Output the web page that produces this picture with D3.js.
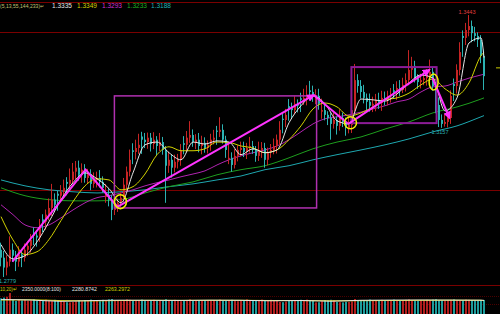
<!DOCTYPE html>
<html>
<head>
<meta charset="utf-8">
<script src="https://cdn.jsdelivr.net/npm/d3@7"></script>
<style>
  body { margin: 0; background: #000; overflow: hidden; }
  text { font-family: "Liberation Sans", sans-serif; font-size: 6.5px; }
</style>
</head>
<body>
<div id="chart"></div>
<script>
// candles, index 0..161
const opens = [
  1.2848,1.2828,1.2803,1.2818,1.2848,1.2833,1.2818,1.2836,1.2828,1.2848,
  1.2858,1.2890,1.2884,1.2879,1.2925,1.2919,1.2937,1.2954,1.2975,1.2990,
  1.2985,1.2995,1.3020,1.3015,1.3025,1.3046,1.3056,1.3038,1.3051,1.3030,
  1.3040,1.3015,1.3025,1.3030,1.3020,1.2982,1.2987,1.2975,1.2949,1.2960,
  1.2967,1.2980,1.3013,1.3046,1.3100,1.3096,1.3106,1.3135,1.3127,1.3121,
  1.3132,1.3116,1.3127,1.3111,1.3121,1.3101,1.3061,1.3076,1.3056,1.3071,
  1.3076,1.3118,1.3114,1.3132,1.3139,1.3121,1.3127,1.3111,1.3119,1.3106,
  1.3114,1.3127,1.3150,1.3147,1.3152,1.3127,1.3078,1.3081,1.3063,1.3086,
  1.3101,1.3106,1.3096,1.3106,1.3111,1.3101,1.3086,1.3101,1.3106,1.3076,
  1.3096,1.3101,1.3111,1.3127,1.3180,1.3177,1.3212,1.3207,1.3202,1.3218,
  1.3232,1.3228,1.3233,1.3252,1.3248,1.3235,1.3238,1.3198,1.3202,1.3190,
  1.3182,1.3167,1.3177,1.3162,1.3182,1.3172,1.3157,1.3164,1.3202,1.3278,
  1.3263,1.3248,1.3233,1.3223,1.3213,1.3218,1.3228,1.3220,1.3233,1.3228,
  1.3238,1.3252,1.3248,1.3258,1.3253,1.3266,1.3278,1.3304,1.3314,1.3283,
  1.3273,1.3278,1.3283,1.3291,1.3299,1.3263,1.3215,1.3177,1.3167,1.3172,
  1.3182,1.3268,1.3263,1.3304,1.3390,1.3385,1.3405,1.3415,1.3397,1.3390,
  1.3380,1.3339
];
const highs = [
  1.2866,1.2845,1.2834,1.2882,1.2864,1.2845,1.2857,1.2849,1.2864,1.2869,
  1.2888,1.2905,1.2896,1.2926,1.2938,1.2950,1.2978,1.3015,1.2991,1.2997,
  1.3012,1.3026,1.3032,1.3054,1.3068,1.3073,1.3074,1.3067,1.3065,1.3053,
  1.3052,1.3044,1.3046,1.3050,1.3034,1.3015,1.3004,1.2987,1.2977,1.2978,
  1.2994,1.3030,1.3059,1.3102,1.3118,1.3127,1.3142,1.3147,1.3144,1.3145,
  1.3144,1.3146,1.3136,1.3144,1.3134,1.3111,1.3097,1.3089,1.3089,1.3091,
  1.3116,1.3136,1.3149,1.3174,1.3153,1.3141,1.3144,1.3137,1.3133,1.3125,
  1.3142,1.3152,1.3162,1.3184,1.3166,1.3137,1.3118,1.3095,1.3103,1.3113,
  1.3122,1.3122,1.3119,1.3134,1.3124,1.3111,1.3122,1.3121,1.3119,1.3107,
  1.3116,1.3130,1.3140,1.3174,1.3194,1.3205,1.3230,1.3221,1.3237,1.3229,
  1.3246,1.3256,1.3265,1.3276,1.3264,1.3255,1.3256,1.3231,1.3217,1.3199,
  1.3194,1.3196,1.3186,1.3204,1.3196,1.3183,1.3184,1.3217,1.3319,1.3293,
  1.3278,1.3266,1.3244,1.3244,1.3236,1.3243,1.3246,1.3251,1.3249,1.3251,
  1.3258,1.3268,1.3275,1.3278,1.3284,1.3295,1.3354,1.3337,1.3327,1.3293,
  1.3294,1.3304,1.3306,1.3330,1.3312,1.3273,1.3234,1.3191,1.3191,1.3195,
  1.3252,1.3282,1.3318,1.3374,1.3404,1.3423,1.3443,1.3429,1.3413,1.3399,
  1.3392,1.3355
];
const lows = [
  1.2806,1.2779,1.2783,1.2806,1.2817,1.2794,1.2805,1.2804,1.2818,1.2832,
  1.2841,1.2860,1.2856,1.2868,1.2893,1.2899,1.2923,1.2934,1.2946,1.2947,
  1.2969,1.2983,1.2986,1.3002,1.3015,1.3027,1.3023,1.3018,1.3018,1.3016,
  1.2999,1.3005,1.3006,1.3006,1.2993,1.2967,1.2958,1.2923,1.2936,1.2944,
  1.2951,1.2970,1.2996,1.3034,1.3065,1.3077,1.3091,1.3091,1.3106,1.3104,
  1.3097,1.3103,1.3088,1.3098,1.3089,1.2967,1.3043,1.3031,1.3044,1.3054,
  1.3061,1.3090,1.3096,1.3119,1.3109,1.3103,1.3095,1.3090,1.3094,1.3092,
  1.3099,1.3115,1.3114,1.3134,1.3117,1.3081,1.3065,1.3046,1.3054,1.3072,
  1.3085,1.3083,1.3078,1.3094,1.3091,1.3071,1.3073,1.3081,1.3056,1.3062,
  1.3081,1.3090,1.3092,1.3114,1.3143,1.3159,1.3175,1.3180,1.3192,1.3196,
  1.3197,1.3215,1.3214,1.3228,1.3223,1.3217,1.3203,1.3180,1.3176,1.3164,
  1.3127,1.3155,1.3140,1.3150,1.3159,1.3137,1.3143,1.3144,1.3192,1.3246,
  1.3231,1.3219,1.3202,1.3198,1.3197,1.3199,1.3205,1.3200,1.3214,1.3214,
  1.3221,1.3231,1.3228,1.3238,1.3245,1.3249,1.3265,1.3282,1.3272,1.3256,
  1.3257,1.3265,1.3264,1.3278,1.3251,1.3194,1.3159,1.3157,1.3160,1.3158,
  1.3167,1.3225,1.3244,1.3290,1.3337,1.3367,1.3389,1.3374,1.3376,1.3362,
  1.3321,1.3253
];
const closes = [
  1.2828,1.2803,1.2818,1.2848,1.2833,1.2818,1.2836,1.2828,1.2848,1.2858,
  1.2873,1.2884,1.2879,1.2904,1.2919,1.2937,1.2954,1.2975,1.2962,1.2985,
  1.2995,1.3005,1.3015,1.3025,1.3046,1.3056,1.3038,1.3051,1.3030,1.3040,
  1.3015,1.3025,1.3030,1.3020,1.3005,1.2987,1.2975,1.2949,1.2960,1.2967,
  1.2980,1.3013,1.3046,1.3076,1.3096,1.3106,1.3114,1.3127,1.3121,1.3132,
  1.3116,1.3127,1.3111,1.3121,1.3101,1.3061,1.3076,1.3056,1.3071,1.3076,
  1.3101,1.3114,1.3132,1.3139,1.3121,1.3127,1.3111,1.3119,1.3106,1.3114,
  1.3127,1.3132,1.3147,1.3152,1.3127,1.3101,1.3081,1.3063,1.3086,1.3101,
  1.3106,1.3096,1.3106,1.3111,1.3101,1.3086,1.3101,1.3106,1.3076,1.3096,
  1.3101,1.3111,1.3127,1.3152,1.3177,1.3190,1.3207,1.3202,1.3218,1.3213,
  1.3228,1.3233,1.3240,1.3248,1.3235,1.3238,1.3218,1.3202,1.3190,1.3182,
  1.3167,1.3177,1.3162,1.3182,1.3172,1.3157,1.3164,1.3202,1.3278,1.3263,
  1.3248,1.3233,1.3223,1.3213,1.3218,1.3228,1.3220,1.3233,1.3228,1.3238,
  1.3240,1.3248,1.3258,1.3253,1.3266,1.3278,1.3304,1.3314,1.3283,1.3273,
  1.3278,1.3283,1.3291,1.3299,1.3263,1.3215,1.3177,1.3167,1.3172,1.3182,
  1.3238,1.3263,1.3304,1.3349,1.3385,1.3405,1.3415,1.3397,1.3390,1.3380,
  1.3339,1.3288
];
const volumes = [
  2380,2420,2460,2650,2300,2250,2330,2280,2310,2260,
  2290,2340,2270,2300,2250,2320,2280,2240,2310,2290,
  2260,2220,2190,2180,2200,2230,2280,2240,2300,2270,
  2320,2290,2260,2240,2310,2280,2330,2350,2290,2270,
  2240,2300,2330,2310,2280,2260,2300,2320,2270,2250,
  2290,2310,2260,2280,2300,2340,2290,2270,2310,2260,
  2240,2280,2300,2330,2270,2250,2290,2280,2300,2260,
  2260,2300,2280,2320,2270,2250,2290,2310,2260,2240,
  2280,2300,2330,2290,2260,2250,2300,2320,2270,2290,
  2310,2280,2260,2200,2190,2220,2270,2250,2300,2280,
  2310,2290,2320,2270,2250,2180,2190,2240,2300,2280,
  2310,2290,2200,2190,2180,2210,2200,2230,2350,2290,
  2270,2300,2280,2320,2260,2250,2290,2310,2280,2270,
  2300,2320,2290,2260,2280,2310,2330,2290,2270,2250,
  2300,2280,2310,2290,2320,2340,2300,2280,2270,2290,
  2310,2330,2300,2280,2290,2320,2310,2300,2280,2260,
  2290,2300
];

// moving averages, sampled at candle indices
const fastIdx = d3.range(0, 161, 4).concat([161]);
const ma5 = [
  1.2861,1.2825,1.2833,1.2868,1.2919,1.2975,1.3018,1.3043,1.3028,1.3003,
  1.2967,1.3043,1.3114,1.3121,1.3094,1.3076,1.3121,1.3116,1.3124,1.3121,
  1.3089,1.3104,1.3094,1.3101,1.3170,1.3213,1.3238,1.3218,1.3175,1.3167,
  1.3230,1.3228,1.3225,1.3243,1.3271,1.3291,1.3283,1.3200,1.3233,1.3372,
  1.3385,1.3335
];
const ma13 = [
  1.2932,1.2873,1.2836,1.2843,1.2874,1.2922,1.2970,1.3010,1.3028,1.3025,
  1.3000,1.3008,1.3040,1.3089,1.3109,1.3099,1.3099,1.3104,1.3121,1.3120,
  1.3111,1.3106,1.3094,1.3101,1.3127,1.3162,1.3205,1.3220,1.3210,1.3187,
  1.3195,1.3210,1.3228,1.3233,1.3245,1.3266,1.3281,1.3256,1.3240,1.3271,
  1.3340,1.3349
];
const ma55 = [
  1.2962,1.2937,1.2911,1.2904,1.2911,1.2929,1.2949,1.2967,1.2980,1.2985,
  1.2992,1.3000,1.3010,1.3018,1.3025,1.3033,1.3040,1.3048,1.3063,1.3076,
  1.3086,1.3094,1.3101,1.3111,1.3127,1.3147,1.3167,1.3180,1.3185,1.3190,
  1.3197,1.3205,1.3213,1.3223,1.3230,1.3248,1.3261,1.3263,1.3273,1.3283,
  1.3291,1.3293
];
const slowIdx = d3.range(0, 161, 8).concat([161]);
const ma144 = [1.3005,1.2985,1.2975,1.2972,1.2972,1.2975,1.2992,1.3008,1.3020,1.3038,1.3051,
               1.3061,1.3081,1.3104,1.3121,1.3134,1.3154,1.3172,1.3195,1.3210,1.3230,1.3233];
const ma233 = [1.3025,1.3010,1.3000,1.2995,1.2992,1.2995,1.3000,1.3008,1.3015,1.3025,1.3035,
               1.3051,1.3061,1.3076,1.3089,1.3101,1.3114,1.3129,1.3147,1.3162,1.3185,1.3188];

const volIdx = d3.range(0, 161, 10).concat([161]);
const volMa10 = [2320,2300,2235,2270,2290,2285,2280,2290,2285,2260,2275,2240,2285,2295,2300,2295,2290,2281];
const volMa20 = [2300,2310,2270,2255,2275,2285,2280,2285,2285,2275,2270,2260,2265,2275,2285,2290,2285,2263];

// labels and levels
const maTitle = "(5,13,55,144,233)\u21b5";
const maLast = ["1.3335", "1.3349", "1.3293", "1.3233", "1.3188"];
const volTitle = "10,20)\u21b5";
const volTexts = ["2350.0000(8:100)", "2280.8742", "2263.2972"];
const priceGrid = [1.3000, 1.3400];
const volGrid = [2100, 2500];
const lastPrice = 1.3309;
const extremes = [
  {i: 156, p: 1.3443, label: "1.3443", kind: "high"},
  {i: 147, p: 1.3157, label: "1.3157", kind: "low"},
  {i: 1, p: 1.2779, label: "1.2779", kind: "low"}
];

// hand drawn annotations: [candle index, price]
const trendLines = [
  [[3.8, 1.2818], [28.2, 1.3051], [38.8, 1.2957]],
  [[38.8, 1.2957], [104.2, 1.3240]],
  [[104.2, 1.3240], [115.8, 1.3167]],
  [[115.8, 1.3167], [142.8, 1.3304]],
  [[143.8, 1.3283], [149.5, 1.3182]]
];
const trendArrow = [false, true, false, true, true];
const boxes = [
  [37.8, 105.2, 1.3238, 1.2954],
  [116.8, 145.2, 1.3311, 1.3169]
];
const rings = [[39.8, 1.2970], [116.5, 1.3170], [144.2, 1.3273]];

const W = 500, H = 314;
const svg = d3.select("#chart").append("svg")
  .attr("width", W).attr("height", H)
  .style("display", "block")
  .style("background", "#000");

const x = d3.scaleLinear().domain([0, 161]).range([1, 484]);
const y = d3.scaleLinear().domain([1.2779, 1.3443]).range([277, 15]);
const yv = d3.scaleLinear().domain([1600, 2800]).range([314, 290]);

const defs = svg.append("defs");
defs.append("clipPath").attr("id", "pclip")
  .append("rect").attr("x", 0).attr("y", 3).attr("width", W).attr("height", 281);
defs.append("marker").attr("id", "arr")
  .attr("viewBox", "0 0 10 10").attr("refX", 8).attr("refY", 5)
  .attr("markerWidth", 4).attr("markerHeight", 4).attr("orient", "auto")
  .append("path").attr("d", "M0,0L10,5L0,10z").attr("fill", "#ff33ff");

// frame lines
const red = "#7a0000";
svg.append("line").attr("x1", 0).attr("x2", W).attr("y1", 2.5).attr("y2", 2.5)
  .attr("stroke", red);
svg.append("line").attr("x1", 0).attr("x2", W).attr("y1", 285.5).attr("y2", 285.5)
  .attr("stroke", red);
svg.selectAll(".pgrid").data(priceGrid).enter().append("line")
  .attr("x1", 0).attr("x2", W)
  .attr("y1", d => Math.round(y(d)) + 0.5).attr("y2", d => Math.round(y(d)) + 0.5)
  .attr("stroke", red);
svg.selectAll(".vgrid").data(volGrid).enter().append("line")
  .attr("x1", 0).attr("x2", W)
  .attr("y1", d => Math.round(yv(d)) + 0.5).attr("y2", d => Math.round(yv(d)) + 0.5)
  .attr("stroke", "#4a0000").attr("stroke-dasharray", "1,1");

const plot = svg.append("g").attr("clip-path", "url(#pclip)");

// slow averages behind candles
const line = d3.line().x(d => x(d[0])).y(d => y(d[1])).curve(d3.curveMonotoneX);
const maSeries = [
  {idx: slowIdx, v: ma233, c: "#1ea8b0"},
  {idx: slowIdx, v: ma144, c: "#1e9e1e"},
  {idx: fastIdx, v: ma55, c: "#b024b0"}
];
maSeries.forEach(s => {
  plot.append("path").datum(s.idx.map((i, k) => [i, s.v[k]]))
    .attr("d", line).attr("fill", "none").attr("stroke", s.c).attr("stroke-width", 1);
});

// candles
const up = "#c62424", down = "#2cb2b2";
const idx = d3.range(opens.length);
const col = i => closes[i] >= opens[i] ? up : down;
plot.selectAll(".wick").data(idx).enter().append("line")
  .attr("x1", i => x(i) - 0.5).attr("x2", i => x(i) - 0.5)
  .attr("y1", i => y(highs[i])).attr("y2", i => y(lows[i]))
  .attr("stroke", col);
plot.selectAll(".body").data(idx).enter().append("rect")
  .attr("x", i => x(i) - 1).attr("width", 2)
  .attr("y", i => y(Math.max(opens[i], closes[i])))
  .attr("height", i => Math.max(1, Math.abs(y(opens[i]) - y(closes[i]))))
  .attr("fill", col);

// fast averages on top
[{v: ma13, c: "#d2d200"}, {v: ma5, c: "#e6e6e6"}].forEach(s => {
  plot.append("path").datum(fastIdx.map((i, k) => [i, s.v[k]]))
    .attr("d", line).attr("fill", "none").attr("stroke", s.c).attr("stroke-width", 1);
});

// annotation boxes
const boxStyle = [{c: "#b030b0", w: 1.5}, {c: "#8c1c96", w: 2}];
boxes.forEach((b, k) => {
  plot.append("rect")
    .attr("x", x(b[0])).attr("y", y(b[2]))
    .attr("width", x(b[1]) - x(b[0])).attr("height", y(b[3]) - y(b[2]))
    .attr("fill", "none").attr("stroke", boxStyle[k].c).attr("stroke-width", boxStyle[k].w);
});

// trend arrows
const tline = d3.line().x(d => x(d[0])).y(d => y(d[1]));
trendLines.forEach((t, k) => {
  plot.append("path").datum(t).attr("d", tline)
    .attr("fill", "none").attr("stroke", "#ff33ff").attr("stroke-width", 2)
    .attr("marker-end", trendArrow[k] ? "url(#arr)" : null);
});

// yellow rings
const ringR = [[6, 7], [6, 6], [4.5, 8]];
rings.forEach((r, k) => {
  plot.append("ellipse").attr("cx", x(r[0])).attr("cy", y(r[1]))
    .attr("rx", ringR[k][0]).attr("ry", ringR[k][1])
    .attr("fill", "none").attr("stroke", "#f0f000").attr("stroke-width", 1.5);
});

// small texts squeezed to the widths seen in the reference
function label(g, tx, ty, s, fill, len, size, anchor) {
  return g.append("text").attr("x", tx).attr("y", ty).attr("fill", fill)
    .attr("text-anchor", anchor || "start")
    .style("font-size", size + "px")
    .attr("textLength", len).attr("lengthAdjust", "spacingAndGlyphs")
    .text(s);
}

// high / low labels
extremes.forEach(e => {
  const ty = e.kind === "high" ? y(e.p) - 1 : y(e.p) + 6;
  const fill = e.kind === "high" ? "#e03c3c" : "#2cb2b2";
  if (e.i < 5) label(svg, -1, ty, e.label, fill, 17, 6.2);
  else label(svg, x(e.i) - 2, ty, e.label, fill, 17, 6.2, "middle");
});

// last price tick
svg.append("line").attr("x1", 496).attr("x2", 500)
  .attr("y1", y(lastPrice)).attr("y2", y(lastPrice))
  .attr("stroke", "#c8c800");

// header
label(svg, 0, 8, maTitle, "#c0c070", 44, 5.2);
const maCols = ["#e6e6e6", "#d2d200", "#d030d0", "#20b020", "#20b4b4"];
const maX = [52, 77, 102, 127, 151];
maLast.forEach((s, k) => label(svg, maX[k], 8, s, maCols[k], 20, 6.5));

// volume panel
svg.selectAll(".vol").data(idx).enter().append("rect")
  .attr("x", i => x(i) - 1).attr("width", 2)
  .attr("y", i => yv(volumes[i]))
  .attr("height", i => H - yv(volumes[i]))
  .attr("fill", i => closes[i] >= opens[i] ? "#b01e1e" : "#1e9c9c");
const vline = d3.line().x(d => x(d[0])).y(d => yv(d[1])).curve(d3.curveMonotoneX);
[{v: volMa20, c: "#d2d200"}, {v: volMa10, c: "#e6e6e6"}].forEach(s => {
  svg.append("path").datum(volIdx.map((i, k) => [i, s.v[k]]))
    .attr("d", vline).attr("fill", "none").attr("stroke", s.c).attr("stroke-width", 1);
});
label(svg, 0, 291, volTitle, "#d2d200", 17, 5.5);
const volCols = ["#e0e0e0", "#e0e0e0", "#d2d200"];
const volX = [22, 72, 105];
const volLen = [39, 25, 25];
volTexts.forEach((s, k) => label(svg, volX[k], 291, s, volCols[k], volLen[k], 6));
</script>
</body>
</html>
